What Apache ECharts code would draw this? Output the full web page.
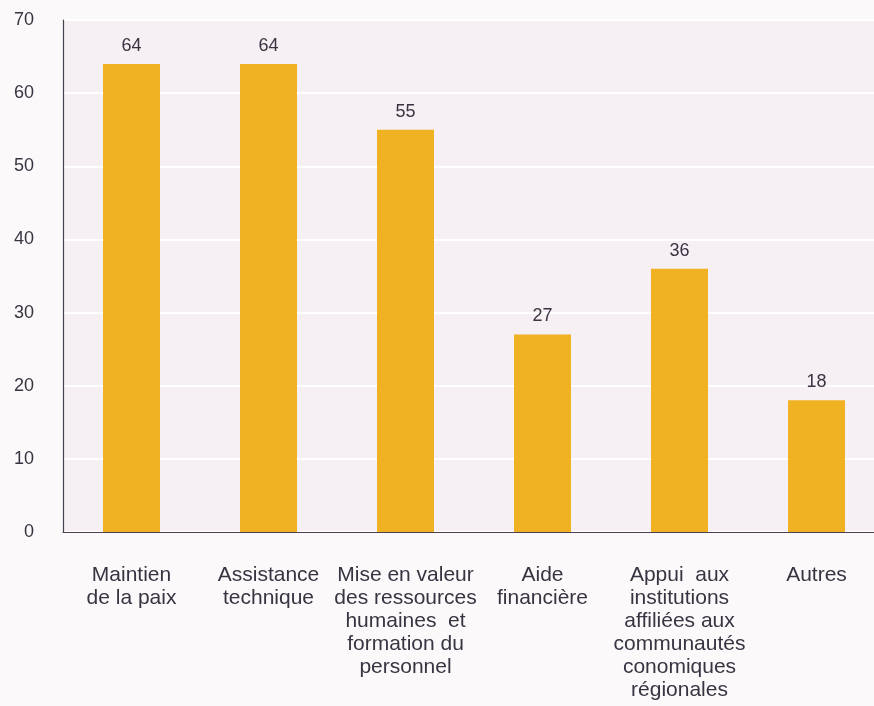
<!DOCTYPE html>
<html>
<head>
<meta charset="utf-8">
<script src="https://cdn.jsdelivr.net/npm/echarts@6/dist/echarts.min.js"></script>
<style>
  html, body { margin: 0; padding: 0; background: #fbf9f9; overflow: hidden; }
  #chart { width: 885px; height: 706px; }
</style>
</head>
<body>
<div id="chart"></div>
<script>
// Domaines d'intervention
const categories = [
  'Maintien\nde la paix',
  'Assistance\ntechnique',
  'Mise en valeur\ndes ressources\nhumaines  et\nformation du\npersonnel',
  'Aide\nfinancière',
  'Appui  aux\ninstitutions\naffiliées aux\ncommunautés\nconomiques\nrégionales',
  'Autres'
];
const values = [64, 64, 55, 27, 36, 18];
const yTicks = [0, 10, 20, 30, 40, 50, 60, 70];

const textColor = '#3a3342';
const font = 'Liberation Sans, Arial, Helvetica, sans-serif';
const chart = echarts.init(document.getElementById('chart'), null, { renderer: 'canvas' });

chart.setOption({
  backgroundColor: '#fbf9f9',
  animation: false,
  grid: {
    left: 63, top: 20, right: 0, height: 512,
    show: true, backgroundColor: '#f6eff3', borderWidth: 0
  },
  xAxis: {
    type: 'category',
    data: categories,
    axisLine: { lineStyle: { color: '#4a4050', width: 1.2 } },
    axisTick: { show: false },
    axisLabel: {
      interval: 0, color: textColor, fontSize: 21, lineHeight: 23,
      fontFamily: font, margin: 32
    }
  },
  yAxis: {
    type: 'value',
    min: yTicks[0], max: yTicks[yTicks.length - 1], interval: 10,
    axisLine: { show: true, lineStyle: { color: '#4a4050', width: 1.2 } },
    axisTick: { show: false },
    splitLine: { lineStyle: { color: '#ffffff', width: 2 } },
    axisLabel: {
      color: textColor, fontSize: 18, margin: 29, align: 'right',
      fontFamily: font
    }
  },
  series: [{
    type: 'bar',
    data: values,
    barWidth: 57,
    itemStyle: { color: '#f0b223' },
    label: {
      show: true, position: 'top', distance: 9,
      color: textColor, fontSize: 18, fontFamily: font
    }
  }]
});
</script>
</body>
</html>
